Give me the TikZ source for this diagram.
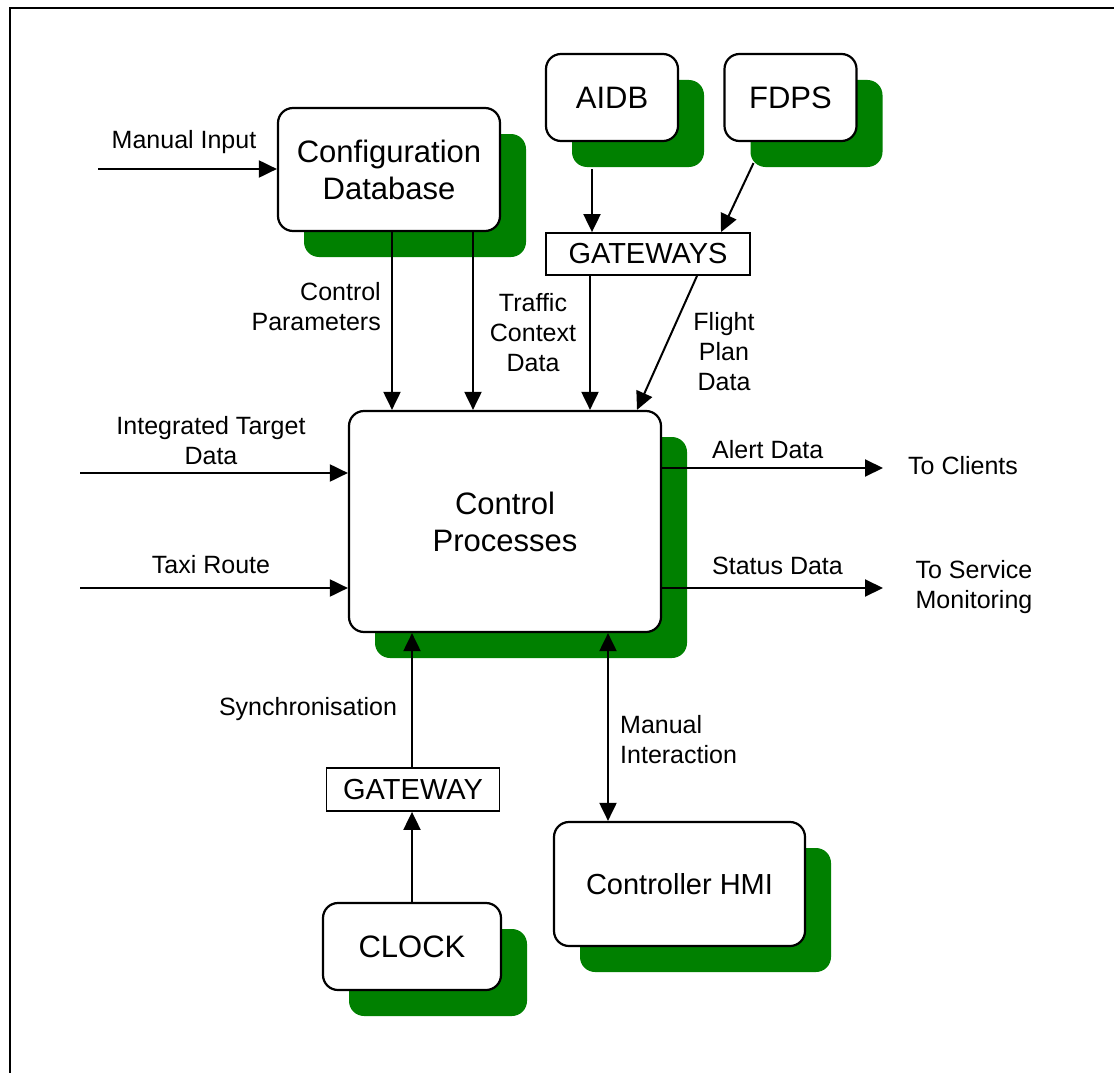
\documentclass[tikz,border=0pt]{standalone}
\usepackage{fontspec}
\setmainfont{Liberation Sans}
\usetikzlibrary{arrows.meta,shadows}

\definecolor{shgreen}{RGB}{0,128,0}
\newcommand\boxfont{\fontsize{31}{37}\selectfont}
\newcommand\gatefont{\fontsize{29}{34}\selectfont}
\newcommand\lblfont{\fontsize{25}{30}\selectfont}

\tikzset{
  box/.style={draw, line width=2.2pt, rounded corners=15pt, fill=white,
    align=center, font=\boxfont, inner sep=0pt,
    drop shadow={shadow xshift=26pt, shadow yshift=-26pt, fill=shgreen, opacity=1}},
  gate/.style={draw, line width=1.8pt, fill=white, font=\gatefont, inner sep=0pt},
  lbl/.style={font=\lblfont, align=center, inner sep=0pt},
  arr/.style={line width=2pt, -{Triangle[length=18pt,width=17pt]}},
  arrboth/.style={line width=2pt, {Triangle[length=18pt,width=17pt]}-{Triangle[length=18pt,width=17pt]}},
}

\begin{document}
\begin{tikzpicture}[x=1pt,y=-1pt]
\useasboundingbox (0,0) rectangle (1114,1073);

% Frame
\draw[line width=2.4pt] (10,1080) -- (10,8) -- (1120,8);

% Boxes
\node[box, minimum width=222pt, minimum height=123pt] (config) at (389,169.5) {Configuration\\Database};
\node[box, minimum width=132pt, minimum height=87pt] (aidb) at (612,97.5) {AIDB};
\node[box, minimum width=132pt, minimum height=87pt] (fdps) at (790.5,97.5) {FDPS};
\node[gate, minimum width=204pt, minimum height=42pt] (gws) at (648,254) {GATEWAYS};
\node[box, minimum width=312pt, minimum height=221pt] (control) at (505,521.5) {Control\\Processes};
\node[gate, minimum width=173pt, minimum height=43pt] (gw) at (413,789.5) {GATEWAY};
\node[box, minimum width=178pt, minimum height=87pt] (clock) at (412,946.5) {CLOCK};
\node[box, minimum width=251pt, minimum height=124pt, font=\gatefont] (hmi) at (679.5,884) {Controller HMI};

% Free ends
\coordinate (manin) at (98,169);
\coordinate (itdin) at (80,473);
\coordinate (taxiin) at (80,588);
\coordinate (alertout) at (883,468);
\coordinate (statusout) at (883,588);

% Connectors
\draw[arr] (manin) -- (manin -| config.west);
\draw[arr] ([xshift=3pt]config.south) -- ([xshift=3pt]config.south |- control.north);
\draw[arr] ([xshift=84pt]config.south) -- ([xshift=84pt]config.south |- control.north);
\draw[arr] ([xshift=-20pt,yshift=-27pt]aidb.south) -- ([xshift=-20pt]aidb.south |- gws.north);
\draw[arr] ([xshift=-37pt,yshift=-21pt]fdps.south) -- ([xshift=73pt]gws.north);
\draw[arr] ([xshift=-58pt]gws.south) -- ([xshift=-58pt]gws.south |- control.north);
\draw[arr] ([xshift=49pt]gws.south) -- ([xshift=132pt]control.north);
\draw[arr] (itdin) -- (itdin -| control.west);
\draw[arr] (taxiin) -- (taxiin -| control.west);
\draw[arr] (control.east |- alertout) -- (alertout);
\draw[arr] (control.east |- statusout) -- (statusout);
\draw[arr] (clock.north) -- (clock.north |- gw.south);
\draw[arr] (clock.north |- gw.north) -- (clock.north |- control.south);
\draw[arrboth] ([xshift=-71.5pt]hmi.north) -- ([xshift=-71.5pt]hmi.north |- control.south);

% Labels
\node[lbl] (lmanin) at (184,142) {Manual Input};
\node[lbl, align=right, anchor=east] (lctrl) at (381,307) {Control\\Parameters};
\node[lbl] (ltraffic) at (533,333) {Traffic\\Context\\Data};
\node[lbl] (lflight) at (724,352) {Flight\\Plan\\Data};
\node[lbl] (litd) at (211,441) {Integrated Target\\Data};
\node[lbl] (ltaxi) at (211,565) {Taxi Route};
\node[lbl, anchor=west] (lalert) at (712,450) {Alert Data};
\node[lbl, anchor=west] (lstatus) at (712,566) {Status Data};
\node[lbl, anchor=west] (lclients) at (908,466) {To Clients};
\node[lbl] (lservice) at (974,587) {To Service\\Monitoring};
\node[lbl] (lsync) at (308,709) {Synchronisation};
\node[lbl, align=left, anchor=west] (lmanint) at (620,740) {Manual\\Interaction};

\end{tikzpicture}
\end{document}
